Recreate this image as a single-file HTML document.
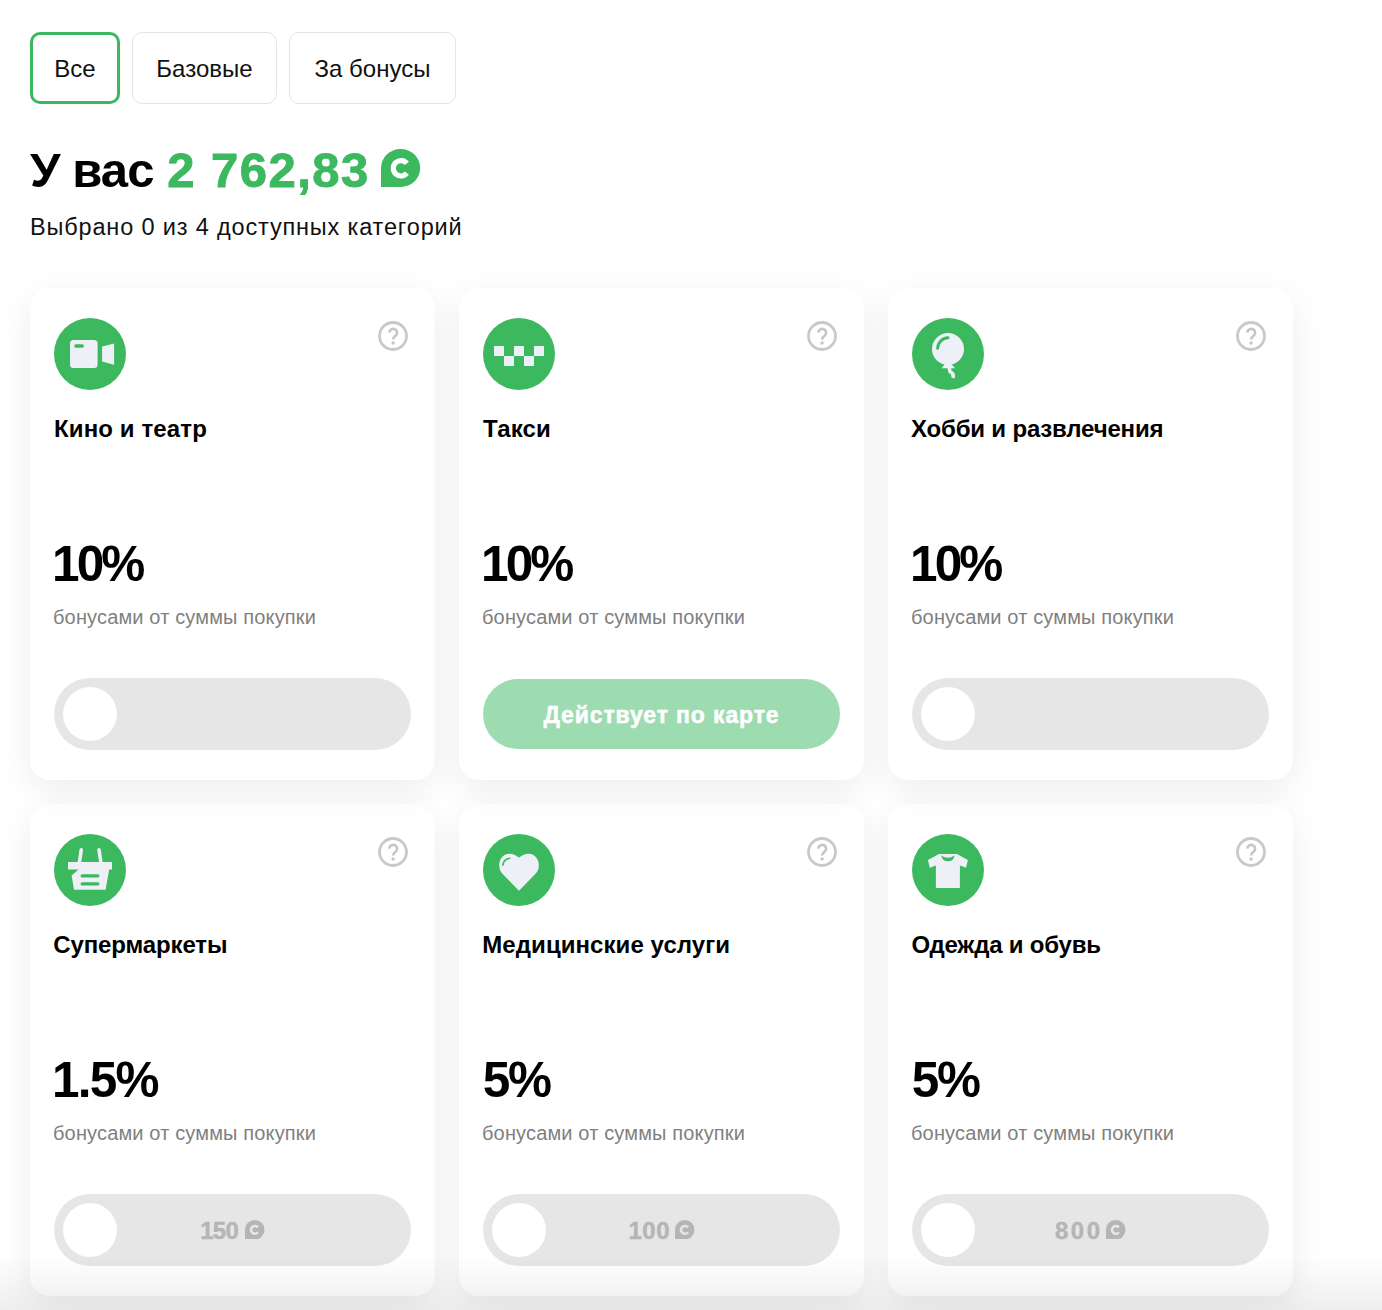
<!DOCTYPE html>
<html lang="ru">
<head>
<meta charset="utf-8">
<title>Категории</title>
<style>
*{box-sizing:border-box;margin:0;padding:0}
html,body{width:1382px;height:1310px;overflow:hidden;background:#fff}
body{font-family:"Liberation Sans",sans-serif;color:#000;position:relative}
.abs{position:absolute}
.tab{position:absolute;top:32px;height:72px;border:1px solid #e4e4e4;border-radius:10px;font-size:24px;line-height:72px;text-align:center;color:#111;background:#fff;white-space:nowrap}
.tab.on{border:3px solid #3cb75f;line-height:68px}
h1{position:absolute;left:30px;top:142.4px;font-size:49px;line-height:56px;font-weight:700;white-space:nowrap;letter-spacing:-.9px}
h1 .g{color:#3cb85f;letter-spacing:1.45px;margin-left:1px;-webkit-text-stroke:.9px #3cb85f}
.sub{position:absolute;left:30px;top:213.2px;font-size:23.5px;line-height:28px;white-space:nowrap;letter-spacing:.84px;color:#111}
.card{position:absolute;width:405px;height:492px;border-radius:20px;background:#fff;box-shadow:0 10px 34px rgba(0,0,0,.075)}
.ic{position:absolute;left:24px;top:30px;width:72px;height:72px}
.q{position:absolute;left:348px;top:33px;width:30px;height:30px}
.t{position:absolute;left:24px;top:126.7px;font-size:24px;line-height:28px;font-weight:700;white-space:nowrap;color:#000;letter-spacing:.12px}
.p{position:absolute;left:22px;top:248.4px;font-size:49.5px;line-height:56px;font-weight:700;white-space:nowrap;letter-spacing:-2.9px;color:#000}
.c{position:absolute;left:23px;top:317.4px;font-size:20px;line-height:24px;white-space:nowrap;color:#808080;letter-spacing:.15px}
.tg{position:absolute;left:24px;top:390px;width:357px;height:72px;border-radius:36px;background:#e6e6e6}
.tg:before{content:"";position:absolute;left:9px;top:9px;width:54px;height:54px;border-radius:50%;background:#fff}
.tg .v{position:absolute;left:0;right:0;top:0;height:72px;display:flex;align-items:center;justify-content:center;font-size:24px;font-weight:700;color:#b5b5b5;line-height:72px;padding-top:2px;letter-spacing:-.6px;-webkit-text-stroke:.4px #b5b5b5}
.tg .v svg{margin-left:7px;width:19.5px;height:19.5px;display:block;position:relative;top:-1.5px}
.btn{position:absolute;left:24px;top:391px;width:357px;height:70px;border-radius:35px;background:#9ddbb0;color:#fff;font-size:23px;font-weight:700;text-align:center;line-height:72.6px;letter-spacing:.87px;white-space:nowrap;-webkit-text-stroke:.5px #fff}
.fade{position:absolute;z-index:5;left:0;top:1255px;width:1382px;height:55px;background:linear-gradient(to bottom,rgba(0,0,0,0),rgba(0,0,0,.065));pointer-events:none}
</style>
</head>
<body>
<div class="tab on" style="left:30px;width:90px">Все</div>
<div class="tab" style="left:132px;width:145px">Базовые</div>
<div class="tab" style="left:289px;width:167px">За бонусы</div>

<h1>У вас <span class="g">2 762,83</span><svg class="abs" style="left:351px;top:6.3px" width="40" height="38" viewBox="0 0 40 38"><path d="M0 38V19A19.6 19 0 1 1 19.6 38Z" fill="#3cb85f"/><path d="M25.9 14.4A7.7 7.7 0 1 0 25.9 24.2" fill="none" stroke="#fff" stroke-width="5.2"/></svg></h1>
<div class="sub">Выбрано 0 из 4 доступных категорий</div>

<!-- cards inserted below -->
<div class="card" style="left:30px;top:288px;z-index:2"><svg class="ic" viewBox="0 0 72 72"><circle cx="36" cy="36" r="36" fill="#3cb85f"/><rect x="16" y="22" width="27.6" height="28" rx="3.5" fill="#eef0f8"/><rect x="20.2" y="26.2" width="9.8" height="3.6" rx="1.8" fill="#3cb85f"/><path d="M48.1 28.6L60.1 25.4V46.7L48.1 43.5Z" fill="#eef0f8"/></svg><svg class="q" viewBox="0 0 30 30"><circle cx="15" cy="15" r="13.5" fill="none" stroke="#c9c9c9" stroke-width="2.8"/><path d="M11.3 11.6A3.9 3.9 0 1 1 17.2 15.1Q15.2 16.4 15.2 18.6" fill="none" stroke="#c6c6c6" stroke-width="2.6"/><circle cx="15.1" cy="22" r="1.7" fill="#c6c6c6"/></svg><div class="t">Кино и театр</div><div class="p">10%</div><div class="c">бонусами от суммы покупки</div><div class="tg"></div></div>
<div class="card" style="left:459px;top:288px;z-index:2"><svg class="ic" viewBox="0 0 72 72"><circle cx="36" cy="36" r="36" fill="#3cb85f"/><path d="M11 28h10v10h10V28h10v10h10V28h10v10H51v10H41V38H31v10H21V38H11Z" fill="#eef0f8"/></svg><svg class="q" viewBox="0 0 30 30"><circle cx="15" cy="15" r="13.5" fill="none" stroke="#c9c9c9" stroke-width="2.8"/><path d="M11.3 11.6A3.9 3.9 0 1 1 17.2 15.1Q15.2 16.4 15.2 18.6" fill="none" stroke="#c6c6c6" stroke-width="2.6"/><circle cx="15.1" cy="22" r="1.7" fill="#c6c6c6"/></svg><div class="t">Такси</div><div class="p">10%</div><div class="c">бонусами от суммы покупки</div><div class="btn">Действует по карте</div></div>
<div class="card" style="left:888px;top:288px;z-index:2"><svg class="ic" viewBox="0 0 72 72"><circle cx="36" cy="36" r="36" fill="#3cb85f"/><circle cx="36" cy="31" r="16" fill="#eef0f8"/><path d="M33.5 45.5L29.6 50.2H43L39 45.5Z" fill="#eef0f8"/><path d="M37.2 49.5L38 53.6Q42.2 55.6 41 60" fill="none" stroke="#eef0f8" stroke-width="3.6"/><path d="M25.7 30.2A10.6 10.6 0 0 1 36 19.8" fill="none" stroke="#3cb85f" stroke-width="3" stroke-linecap="round"/></svg><svg class="q" viewBox="0 0 30 30"><circle cx="15" cy="15" r="13.5" fill="none" stroke="#c9c9c9" stroke-width="2.8"/><path d="M11.3 11.6A3.9 3.9 0 1 1 17.2 15.1Q15.2 16.4 15.2 18.6" fill="none" stroke="#c6c6c6" stroke-width="2.6"/><circle cx="15.1" cy="22" r="1.7" fill="#c6c6c6"/></svg><div class="t" style="left:23px;letter-spacing:-.18px">Хобби и развлечения</div><div class="p">10%</div><div class="c">бонусами от суммы покупки</div><div class="tg"></div></div>
<div class="card" style="left:30px;top:804px;z-index:1"><svg class="ic" viewBox="0 0 72 72"><circle cx="36" cy="36" r="36" fill="#3cb85f"/><path d="M14 28H58V35.6H55.2L51.6 55.8H20L17.6 41.5L24.5 35.6H14Z" fill="#eef0f8"/><path d="M27.3 15.8L25.3 29M45 15.8L47 29" stroke="#eef0f8" stroke-width="3.6" stroke-linecap="round" fill="none"/><path d="M28.2 41.9H43.8M28.2 49.9H43.8" stroke="#3cb85f" stroke-width="3.4" stroke-linecap="round"/></svg><svg class="q" viewBox="0 0 30 30"><circle cx="15" cy="15" r="13.5" fill="none" stroke="#c9c9c9" stroke-width="2.8"/><path d="M11.3 11.6A3.9 3.9 0 1 1 17.2 15.1Q15.2 16.4 15.2 18.6" fill="none" stroke="#c6c6c6" stroke-width="2.6"/><circle cx="15.1" cy="22" r="1.7" fill="#c6c6c6"/></svg><div class="t" style="left:23.3px;letter-spacing:-.13px">Супермаркеты</div><div class="p" style="letter-spacing:-1.8px">1.5%</div><div class="c">бонусами от суммы покупки</div><div class="tg"><div class="v">150<svg viewBox="0 0 20 20"><path d="M0 20V10A10 10 0 1 1 10 20Z" fill="#b5b5b5"/><path d="M13.3 7.6A4 4 0 1 0 13.3 12.6" fill="none" stroke="#e6e6e6" stroke-width="2.7"/></svg></div></div></div>
<div class="card" style="left:459px;top:804px;z-index:1"><svg class="ic" viewBox="0 0 72 72"><circle cx="36" cy="36" r="36" fill="#3cb85f"/><path d="M36 56.8L19.2 39.6C13.4 33.4 16 20 26.4 19.7C30.6 19.7 33.6 21.4 36 23.8C38.4 21.4 41.4 19.7 45.6 19.7C56 20 58.6 33.4 52.8 39.6Z" fill="#eef0f8"/><path d="M19.9 31.2A8 8 0 0 1 26.8 24.3" fill="none" stroke="#3cb85f" stroke-width="1.6" stroke-linecap="round"/></svg><svg class="q" viewBox="0 0 30 30"><circle cx="15" cy="15" r="13.5" fill="none" stroke="#c9c9c9" stroke-width="2.8"/><path d="M11.3 11.6A3.9 3.9 0 1 1 17.2 15.1Q15.2 16.4 15.2 18.6" fill="none" stroke="#c6c6c6" stroke-width="2.6"/><circle cx="15.1" cy="22" r="1.7" fill="#c6c6c6"/></svg><div class="t" style="left:23.3px;letter-spacing:.07px">Медицинские услуги</div><div class="p" style="left:23.8px;letter-spacing:-2.4px">5%</div><div class="c">бонусами от суммы покупки</div><div class="tg"><div class="v"><span style="letter-spacing:.55px;margin-right:-2px">100</span><svg viewBox="0 0 20 20"><path d="M0 20V10A10 10 0 1 1 10 20Z" fill="#b5b5b5"/><path d="M13.3 7.6A4 4 0 1 0 13.3 12.6" fill="none" stroke="#e6e6e6" stroke-width="2.7"/></svg></div></div></div>
<div class="card" style="left:888px;top:804px;z-index:1"><svg class="ic" viewBox="0 0 72 72"><circle cx="36" cy="36" r="36" fill="#3cb85f"/><path d="M26.9 20H44.9L55.9 26.1L54 33.7L47.9 31.4V53.9H23.9V31.4L17.8 33.7L15.9 26.1Z" fill="#eef0f8"/><path d="M29.2 21.4Q36 26 42.6 21.4Q41.5 27.3 36 27.3Q30.5 27.3 29.2 21.4Z" fill="#3cb85f"/></svg><svg class="q" viewBox="0 0 30 30"><circle cx="15" cy="15" r="13.5" fill="none" stroke="#c9c9c9" stroke-width="2.8"/><path d="M11.3 11.6A3.9 3.9 0 1 1 17.2 15.1Q15.2 16.4 15.2 18.6" fill="none" stroke="#c6c6c6" stroke-width="2.6"/><circle cx="15.1" cy="22" r="1.7" fill="#c6c6c6"/></svg><div class="t" style="left:23.6px;letter-spacing:-.2px">Одежда и обувь</div><div class="p" style="left:23.8px;letter-spacing:-2.4px">5%</div><div class="c">бонусами от суммы покупки</div><div class="tg"><div class="v"><span style="letter-spacing:2.5px;margin-right:-3.1px">800</span><svg viewBox="0 0 20 20"><path d="M0 20V10A10 10 0 1 1 10 20Z" fill="#b5b5b5"/><path d="M13.3 7.6A4 4 0 1 0 13.3 12.6" fill="none" stroke="#e6e6e6" stroke-width="2.7"/></svg></div></div></div>

<div class="fade"></div>
</body>
</html>
